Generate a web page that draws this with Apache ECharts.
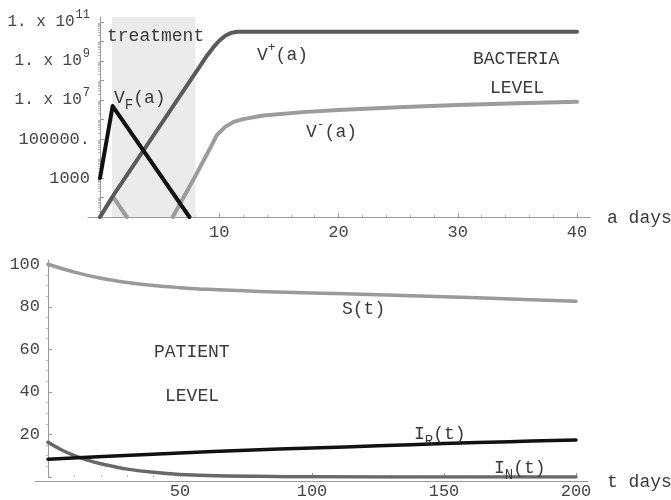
<!DOCTYPE html>
<html><head><meta charset="utf-8">
<script src="https://cdn.jsdelivr.net/npm/echarts@6/dist/echarts.min.js"></script>
<style>html,body{margin:0;padding:0;background:#fff}#c{width:671px;height:500px}</style>
</head><body><div id="c"></div>
<script>
const FONT = 'Liberation Mono';
// ---- Top panel: bacteria level, a in days, values are bacteria counts ----
const vPlusA = [0, 1, 9, 9.5, 10, 10.5, 11, 11.5, 12, 40];
const vPlusV = [10, 100, 2.0e9, 5.0e9, 1.1e10, 2.0e10, 2.8e10, 3.2e10, 3.2e10, 3.2e10];
const vMinusEarlyA = [0, 1.1, 2.25];
const vMinusEarlyV = [10, 107, 10];
const vMinusLateA = [6.1, 7, 8, 9, 9.8, 10.5, 11.2, 12, 13.7, 17, 20, 25, 30, 35, 40];
const vMinusLateV = [10, 100, 1.26e3, 1.8e4, 1.6e5, 4.2e5, 7.6e5, 1.05e6, 1.6e6, 2.4e6, 3.1e6, 4.3e6, 5.5e6, 6.8e6, 8.1e6];
const vFA = [0, 1.06, 7.5];
const vFV = [1e3, 4.9e6, 10];
const treatment = [1, 8];
const topXTicks = [10, 20, 30, 40];
const topYLabelExp = [3, 5, 7, 9, 11];
// ---- Bottom panel: patient level, t in days ----
const tS = [0, 10, 20, 30, 40, 50, 60, 80, 100, 125, 150, 175, 200];
const sV = [100, 96.3, 93.4, 91.4, 90.0, 89.0, 88.2, 87.2, 86.5, 85.7, 84.7, 83.7, 82.6];
const tIN = [0, 5, 10, 15, 20, 25, 30, 40, 50, 60, 80, 100, 150, 200];
const iNV = [16.3, 12.8, 10.0, 7.9, 6.2, 4.9, 3.7, 2.2, 1.2, 0.7, 0.3, 0.1, 0, 0];
const tIR = [0, 25, 50, 75, 100, 125, 150, 175, 200];
const iRV = [8.4, 9.9, 11.3, 12.6, 13.6, 14.7, 15.7, 16.6, 17.4];
const botYLabels = [20, 40, 60, 80, 100];

const pairsLog = (xs, vs) => xs.map((x, i) => [x, Math.log10(vs[i])]);
const pairs = (xs, vs) => xs.map((x, i) => [x, vs[i]]);

const axisGray = '#9a9a9a';
const labelColor = '#444';
const tickStyle = { show: true, inside: true, length: 4, lineStyle: { color: axisGray } };
const minorStyle = { show: true, length: 2, lineStyle: { color: '#bbb' } };

const logMinor = [];
for (let n = 1; n <= 10; n++) for (let k = 2; k <= 9; k++) logMinor.push(Math.log10(k) + n);
const linMinor = [];
for (let v = 5; v <= 100; v += 5) if (v % 20) linMinor.push(v);

function topYFmt(e) {
  e = Math.round(e);
  if (e === 3) return '1000';
  if (e === 5) return '100000.';
  return '{b|1. x 10}{s|' + e + '}';
}

const chart = echarts.init(document.getElementById('c'));
const lineS = (name, data, color, w, xi, yi, z) => ({
  name, type: 'line', data, xAxisIndex: xi, yAxisIndex: yi, showSymbol: false, symbol: 'none',
  lineStyle: { color, width: w, cap: 'round', join: 'round' }, itemStyle: { color },
  smooth: false, clip: true, z: z || 3, animation: false, silent: true
});
const smoothS = (name, data, color, w, xi, yi, z) => Object.assign(lineS(name, data, color, w, xi, yi, z), { smooth: 0.4 });

const txt = (text, x, y, extra) => ({
  type: 'text', x, y, silent: true, z: 100,
  style: Object.assign({
    text, fontFamily: FONT, fontSize: 18, fill: '#3a3a3a', align: 'left', verticalAlign: 'middle',
    lineHeight: 28,
    rich: {
      sub: { fontFamily: FONT, fontSize: 14, verticalAlign: 'bottom', fill: '#3a3a3a', lineHeight: 28 },
      sup: { fontFamily: FONT, fontSize: 13, verticalAlign: 'top', fill: '#3a3a3a', lineHeight: 24 },
      m: { fontFamily: FONT, fontSize: 18, fill: '#3a3a3a', lineHeight: 28 }
    }
  }, extra || {})
});

chart.setOption({
  animation: false,
  backgroundColor: '#fff',
  grid: [
    { left: 100, right: 94, top: 17, bottom: 283 },
    { left: 48, right: 95, top: 260, bottom: 19 },
    { left: 88, right: 81, top: 17, bottom: 283 },
    { left: 35, right: 83, top: 260, bottom: 19 }
  ],
  xAxis: [
    { type: 'value', gridIndex: 0, min: 0, max: 40, interval: 10,
      axisLine: { show: false, onZero: false }, axisTick: tickStyle,
      minorTick: Object.assign({ splitNumber: 5 }, minorStyle), splitLine: { show: false },
      axisLabel: { customValues: topXTicks, margin: 7, fontFamily: FONT, fontSize: 17, color: labelColor } },
    { type: 'value', gridIndex: 1, min: 0, max: 200, interval: 50,
      axisLine: { show: false, onZero: false }, axisTick: tickStyle,
      minorTick: Object.assign({ splitNumber: 5 }, minorStyle), splitLine: { show: false },
      axisLabel: { formatter: v => v === 0 ? '' : String(v), margin: 6, fontFamily: FONT, fontSize: 17, color: labelColor } },
    { type: 'value', gridIndex: 2, min: 0, max: 1, axisLine: { show: true, onZero: false, lineStyle: { color: axisGray } },
      axisTick: { show: false }, axisLabel: { show: false }, splitLine: { show: false } },
    { type: 'value', gridIndex: 3, min: 0, max: 1, axisLine: { show: true, onZero: false, lineStyle: { color: axisGray } },
      axisTick: { show: false }, axisLabel: { show: false }, splitLine: { show: false } }
  ],
  yAxis: [
    { type: 'value', gridIndex: 0, min: 1, max: 11.26,
      axisLine: { show: true, onZero: false, lineStyle: { color: axisGray } },
      axisTick: Object.assign({ customValues: [1, 2, 3, 4, 5, 6, 7, 8, 9, 10, 11] }, tickStyle),
      splitLine: { show: false },
      axisLabel: { customValues: topYLabelExp, formatter: topYFmt, margin: 10, fontFamily: FONT, fontSize: 17, color: labelColor,
        rich: {
          b: { fontFamily: FONT, fontSize: 16, lineHeight: 26, color: labelColor },
          s: { fontFamily: FONT, fontSize: 12, verticalAlign: 'top', lineHeight: 26, color: labelColor, padding: [0, 0, 0, 1] } } } },
    { type: 'value', gridIndex: 0, min: 1, max: 11.26, axisLine: { show: false },
      axisTick: { show: true, inside: true, length: 2, customValues: logMinor, lineStyle: { color: '#bbb' } },
      axisLabel: { show: false }, splitLine: { show: false } },
    { type: 'value', gridIndex: 1, min: 0, max: 102,
      axisLine: { show: true, onZero: false, lineStyle: { color: axisGray } },
      axisTick: Object.assign({ customValues: [0, 20, 40, 60, 80, 100] }, tickStyle),
      splitLine: { show: false },
      axisLabel: { customValues: botYLabels, margin: 8, fontFamily: FONT, fontSize: 17, color: labelColor } },
    { type: 'value', gridIndex: 1, min: 0, max: 102, axisLine: { show: false },
      axisTick: { show: true, inside: true, length: 2, customValues: linMinor, lineStyle: { color: '#bbb' } },
      axisLabel: { show: false }, splitLine: { show: false } },
    { type: 'value', gridIndex: 2, min: 0, max: 1, show: false },
    { type: 'value', gridIndex: 3, min: 0, max: 1, show: false }
  ],
  series: [
    { type: 'line', xAxisIndex: 0, yAxisIndex: 0, data: [[treatment[0], 1], [treatment[1], 1]], symbol: 'none',
      lineStyle: { width: 0, opacity: 0 }, z: 1, silent: true,
      markArea: { silent: true, itemStyle: { color: '#ebebeb' }, data: [[{ xAxis: treatment[0] }, { xAxis: treatment[1] }]] } },
    lineS('V-early', pairsLog(vMinusEarlyA, vMinusEarlyV), '#9c9c9c', 4, 0, 0, 3),
    lineS('V-late', pairsLog(vMinusLateA, vMinusLateV), '#9c9c9c', 4, 0, 0, 3),
    lineS('V+', pairsLog(vPlusA, vPlusV), '#5a5a5a', 4, 0, 0, 4),
    lineS('VF', pairsLog(vFA, vFV), '#111', 4, 0, 0, 5),
    smoothS('S', pairs(tS, sV), '#9a9a9a', 3.5, 1, 2, 3),
    smoothS('IN', pairs(tIN, iNV), '#686868', 3.5, 1, 2, 4),
    smoothS('IR', pairs(tIR, iRV), '#111', 3.5, 1, 2, 5)
  ],
  graphic: [
    txt('treatment', 107, 36),
    txt('{m|V}{sup|+}{m|(a)}', 257, 55),
    txt('{m|V}{sub|F}{m|(a)}', 114, 98),
    txt('{m|V}{sup|-}{m|(a)}', 306, 132),
    txt('BACTERIA', 473, 59),
    txt('LEVEL', 490, 88),
    txt('a days', 607, 218),
    txt('PATIENT', 154, 352),
    txt('LEVEL', 165, 396),
    txt('S(t)', 342, 309),
    txt('{m|I}{sub|R}{m|(t)}', 414, 434),
    txt('{m|I}{sub|N}{m|(t)}', 494, 468),
    txt('t days', 607, 482)
  ]
});
</script></body></html>
